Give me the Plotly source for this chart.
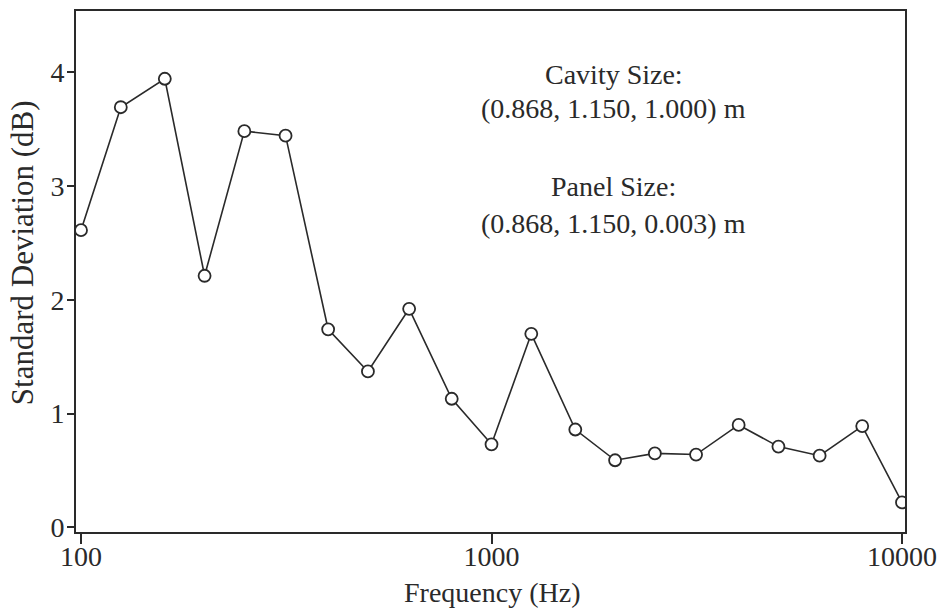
import plotly.graph_objects as go

freqs = [100, 125, 160, 200, 250, 315, 400, 500, 630, 800, 1000, 1250, 1600,
         2000, 2500, 3150, 4000, 5000, 6300, 8000, 10000]
std_dev = [2.61, 3.69, 3.94, 2.21, 3.48, 3.44, 1.74, 1.37, 1.92, 1.13, 0.73,
           1.70, 0.86, 0.59, 0.65, 0.64, 0.90, 0.71, 0.63, 0.89, 0.22]
x_ticks = [100, 1000, 10000]
y_ticks = [0, 1, 2, 3, 4]
notes = ["Cavity Size:", "(0.868, 1.150, 1.000) m", "Panel Size:", "(0.868, 1.150, 0.003) m"]
note_y = [0.8776, 0.8126, 0.6635, 0.5927]

FONT = "Liberation Serif, Times New Roman, serif"
INK = "#2a2a2a"

fig = go.Figure()
fig.add_trace(go.Scatter(
    x=freqs, y=std_dev, mode="lines+markers",
    line=dict(color=INK, width=1.6),
    marker=dict(symbol="circle", size=12, color="white",
                line=dict(color=INK, width=1.8)),
    showlegend=False,
))

for t, yy in zip(notes, note_y):
    fig.add_annotation(x=0.6486, y=yy, xref="paper", yref="paper", text=t,
                       showarrow=False, xanchor="center", yanchor="middle",
                       font=dict(family=FONT, size=28, color=INK))

fig.add_annotation(x=0.5018, y=-0.1166, xref="paper", yref="paper",
                   text="Frequency (Hz)", showarrow=False,
                   xanchor="center", yanchor="middle",
                   font=dict(family=FONT, size=28, color=INK))
fig.add_annotation(x=-0.065, y=0.5354, xref="paper", yref="paper",
                   text="Standard Deviation (dB)", showarrow=False, textangle=-90,
                   xanchor="center", yanchor="middle",
                   font=dict(family=FONT, size=31, color=INK))

fig.update_layout(
    width=946, height=611,
    margin=dict(l=76, r=39, t=9, b=79),
    paper_bgcolor="white", plot_bgcolor="white",
    font=dict(family=FONT, size=28, color=INK),
    xaxis=dict(type="log", range=[1.9878, 4.0073], tickvals=x_ticks,
               ticktext=[str(v) for v in x_ticks],
               ticks="outside", ticklen=10, tickwidth=1.5, tickcolor=INK,
               ticklabelstandoff=-12,
               showline=True, linecolor=INK, linewidth=1.8, mirror=True,
               showgrid=False, zeroline=False),
    yaxis=dict(range=[-0.04, 4.535], tickvals=y_ticks,
               ticks="outside", ticklen=7, tickwidth=1.5, tickcolor=INK,
               ticklabelstandoff=-3,
               showline=True, linecolor=INK, linewidth=1.8, mirror=True,
               showgrid=False, zeroline=False),
)

fig.write_html("out.html")
